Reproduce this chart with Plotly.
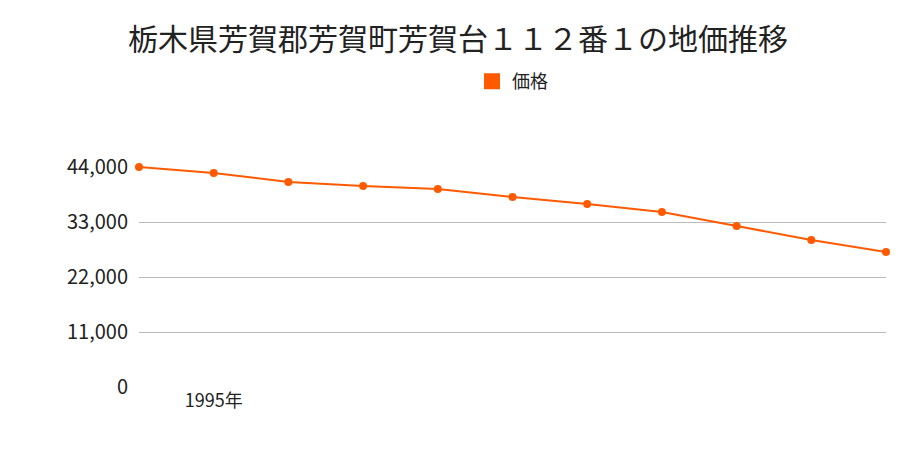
import plotly.graph_objects as go

years = list(range(1994, 2005))
prices = [44000, 42800, 41000, 40200, 39600, 38000, 36600, 35000, 32200, 29400, 27000]
yticks = [0, 11000, 22000, 33000, 44000]
ytext = ["0", "11,000", "22,000", "33,000", "44,000"]

fig = go.Figure()
fig.add_trace(go.Scatter(x=years, y=prices, mode="lines+markers", name="価格", showlegend=False,
                         line=dict(color="#ff5a00", width=2), marker=dict(color="#ff5a00", size=8),
                         cliponaxis=False))
fig.add_trace(go.Scatter(x=[None], y=[None], mode="markers", name="価格",
                         marker=dict(color="#ff5a00", size=20, symbol="square")))
fig.update_layout(
    width=900, height=450, plot_bgcolor="white", paper_bgcolor="white",
    font=dict(family="Noto Sans CJK JP", color="#222", size=18),
    title=dict(text="栃木県芳賀郡芳賀町芳賀台１１２番１の地価推移", x=0.5, y=0.93, xanchor="center",
               yanchor="middle", font=dict(size=30)),
    legend=dict(orientation="h", x=0.5, xanchor="center", y=1.38, yanchor="middle", font=dict(size=18),
                itemwidth=30),
    margin=dict(l=131, r=22, t=158, b=70, autoexpand=False),
    xaxis=dict(range=[1994, 2004], tickvals=[1995], ticktext=["1995年"], showgrid=False, zeroline=False,
               tickfont=dict(size=18), showline=False, automargin=False),
    yaxis=dict(range=[-200, 44200], tickvals=yticks, ticktext=ytext, gridcolor="#bbb", zeroline=False,
               tickfont=dict(size=20), ticks="", ticklabelstandoff=10, automargin=False),
)
fig.write_html("out.html")
